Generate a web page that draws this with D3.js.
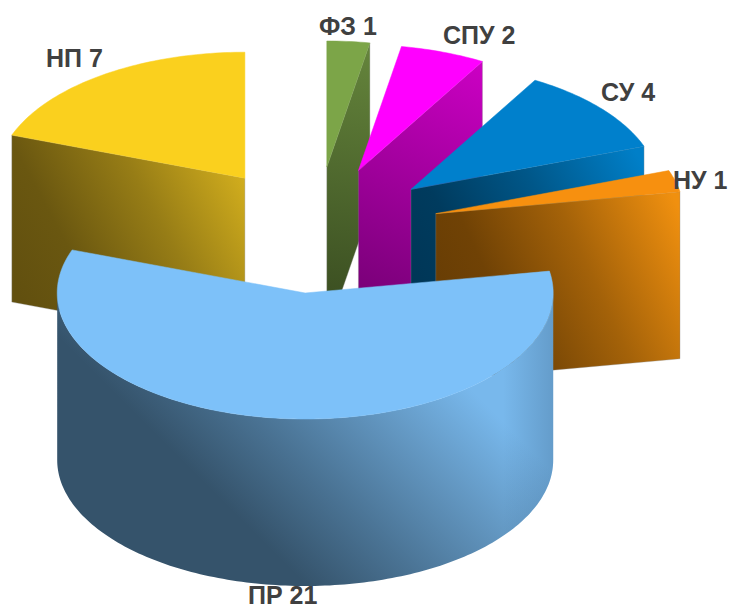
<!DOCTYPE html>
<html><head><meta charset="utf-8">
<script src="https://cdn.jsdelivr.net/npm/d3@7/dist/d3.min.js"></script>
<style>html,body{margin:0;padding:0;background:#fff;overflow:hidden}svg{display:block}</style>
</head><body><svg id="c" width="729" height="610"></svg>
<script>
const categories = ["ФЗ","СПУ","СУ","НУ","ПР","НП"];
const values = [1,2,4,1,21,7];
const topColors = ["#7ca548","#ff00ff","#0080cc","#f7900f","#7dc1f9","#fad01e"];
const wallLight = ["#65853c","#cc00c4","#007fc8","#f0900f","#78b8ec","#d8b31e"];
const wallDark  = ["#36481e","#6c006c","#003656","#663c04","#35536b","#62500f"];
const labelAnchors = [[319,35],[443,44],[601,101],[673,189],[248,604],[46,67]];

const cx=316, cy=230, rx=248, ry=126, depth=167, explode=124, kY=0.51;
const svg=d3.select("#c"), defs=svg.append("defs");
const arcs=d3.pie().sort(null).value(d=>d)(values).map((a,i)=>({...a,i}));
const deg90=Math.PI/2, deg270=3*Math.PI/2;

arcs.forEach(a=>{
  const mid=(a.startAngle+a.endAngle)/2;
  a.cx=cx+explode*Math.sin(mid);
  a.cy=cy-explode*kY*Math.cos(mid);
});
const pt=(a,t,dz=0)=>[a.cx+rx*Math.sin(t), a.cy-ry*Math.cos(t)+dz];
const sample=(a,t0,t1,dz=0)=>{
  const n=Math.max(2,Math.ceil((t1-t0)/0.02));
  return d3.range(n+1).map(k=>pt(a,t0+(t1-t0)*k/n,dz));
};
const line=d3.line();

function gradient(id,x1,y1,x2,y2,stops){
  const g=defs.append("linearGradient").attr("id",id).attr("gradientUnits","userSpaceOnUse")
    .attr("x1",x1).attr("y1",y1).attr("x2",x2).attr("y2",y2);
  stops.forEach(s=>g.append("stop").attr("offset",s[0]).attr("stop-color",s[1]).attr("stop-opacity",s[2]??1));
  return `url(#${id})`;
}
const edge={stroke:"#8a8a8a","stroke-width":0.6,"stroke-opacity":0.55};
const paint=(sel,o)=>{Object.entries(o).forEach(([k,v])=>sel.attr(k,v));return sel;};

const order=arcs.slice().sort((p,q)=>p.cy-q.cy);
order.forEach(a=>{
  const g=svg.append("g").attr("class","slice");
  const apex=[a.cx,a.cy];
  const radial=[];
  if(a.endAngle<Math.PI) radial.push(a.endAngle);
  if(a.startAngle>Math.PI) radial.push(a.startAngle);
  radial.forEach(t=>{
    const p=pt(a,t);
    const poly=[apex,p,[p[0],p[1]+depth],[apex[0],apex[1]+depth]];
    const xs=poly.map(d=>d[0]), ys=poly.map(d=>d[1]);
    const x0=d3.min(xs),x1=d3.max(xs),y0=d3.min(ys),y1=d3.max(ys),h=y1-y0;
    const narrow=(x1-x0)<150;
    const mix=d3.interpolateRgb(wallDark[a.i],wallLight[a.i]);
    const fill=narrow
      ? gradient(`w${a.i}`,x0,y1,x1,y0,[[0,wallDark[a.i]],[1,wallLight[a.i]]])
      : gradient(`w${a.i}`,x0,y0+0.7*h,x1,y0+0.1*h,[[0,wallDark[a.i]],[0.25,mix(0.07)],[0.6,mix(0.45)],[1,wallLight[a.i]]]);
    paint(g.append("path").attr("d",line(poly)+"Z").attr("fill",fill),edge);
  });
  const t0=Math.max(a.startAngle,deg90), t1=Math.min(a.endAngle,deg270);
  if(t1>t0){
    const upper=sample(a,t0,t1), lower=sample(a,t0,t1,depth).reverse();
    const d=line(upper.concat(lower))+"Z";
    const fill=gradient(`o${a.i}`,a.cx-79,a.cy+212,a.cx+101,a.cy+32,
      [[0,wallDark[a.i]],[0.33,"#4a7394"],[0.7,"#6499c4"],[1,wallLight[a.i]]]);
    g.append("path").attr("d",d).attr("fill",fill);
    const edgeShade=gradient(`e${a.i}`,a.cx+rx-50,0,a.cx+rx,0,[[0,"#2a4a66",0],[1,"#2a4a66",0.25]]);
    g.append("path").attr("d",d).attr("fill",edgeShade);
  }
  const top=[apex].concat(sample(a,a.startAngle,a.endAngle));
  paint(g.append("path").attr("d",line(top)+"Z").attr("fill",topColors[a.i]),{stroke:topColors[a.i],"stroke-width":0.5});
});

svg.append("g").selectAll("text").data(categories).join("text")
  .attr("x",(d,i)=>labelAnchors[i][0]).attr("y",(d,i)=>labelAnchors[i][1])
  .attr("font-family","'Liberation Sans',Arial,sans-serif").attr("font-weight","bold")
  .attr("font-size",25).attr("fill","#404040")
  .text((d,i)=>`${d} ${values[i]}`);
</script></body></html>
